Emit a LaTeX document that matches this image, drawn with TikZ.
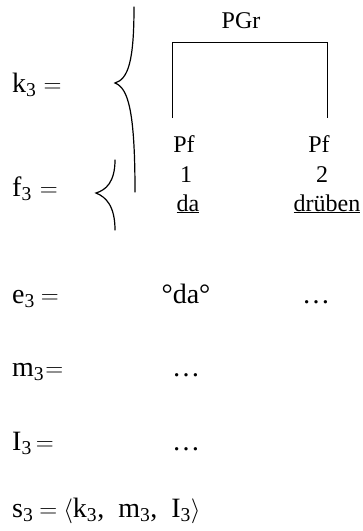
\documentclass[tikz,border=0pt]{standalone}
\usepackage{fontspec}
\setmainfont{Liberation Serif}
\usetikzlibrary{positioning}

\begin{document}
\begin{tikzpicture}[x=1pt, y=-1pt,
  lhs/.style={anchor=base west, inner sep=0pt, font=\fontsize{28}{32}\selectfont},
  val/.style={anchor=base, inner sep=0pt, font=\fontsize{28}{32}\selectfont},
  cat/.style={anchor=base, inner sep=0pt, font=\fontsize{24}{28}\selectfont},
  brace/.style={line width=1.2pt, line cap=round},
  branch/.style={line width=1pt},
]
\useasboundingbox (0,0) rectangle (363,531);

% Left-hand sides of the equations.
\node[lhs] (k3) at (12,92)  {k\textsubscript{3}\hspace{7pt}$=$};
\node[lhs] (f3) at (12,196) {f\textsubscript{3}\hspace{8pt}$=$};
\node[lhs] (e3) at (12,303) {e\textsubscript{3}\hspace{6pt}$=$};
\node[lhs] (m3) at (12,376) {m\textsubscript{3}\hspace{1pt}$=$};
\node[lhs] (l3) at (12,450) {I\textsubscript{3}\hspace{4pt}$=$};
\node[lhs] (s3) at (12,517)
  {s\textsubscript{3}\hspace{6pt}$=$\hspace{6pt}$\langle$k\textsubscript{3},\hspace{14pt}m\textsubscript{3},\hspace{14pt}I\textsubscript{3}$\rangle$};

% Braces.
\draw[brace] (134,7) .. controls (134,62) and (128,79) .. (115,83)
  .. controls (128,88) and (135,110) .. (135,192);
\draw[brace] (115,160) .. controls (115,182) and (106,190) .. (96,193)
  .. controls (106,197) and (115,206) .. (115,230);

% Tree: PGr over two Pf.
\node[cat] (pgr) at (241,28) {PGr};
\coordinate (bl) at (172,118);
\coordinate (tl) at (172,42);
\coordinate (tr) at (327,42);
\coordinate (br) at (327,118);
\draw[branch] (bl) -- (tl) -- (tr) -- (br);

\node[cat] (pf1) at (184,152) {Pf};
\node[cat] (pf2) at (319,152) {Pf};
\node[cat] (n1)  at (186,182) {1};
\node[cat] (n2)  at (322,182) {2};
\node[cat] (w1)  at (188,211) {\underline{da}};
\node[cat] (w2)  at (327,211) {\underline{drüben}};

% Values.
\node[val] (e1) at (186,303) {°da°};
\node[val] (e2) at (316,303) {\ldots};
\node[val] (m1) at (186,376) {\ldots};
\node[val] (l1) at (186,450) {\ldots};

\end{tikzpicture}
\end{document}
